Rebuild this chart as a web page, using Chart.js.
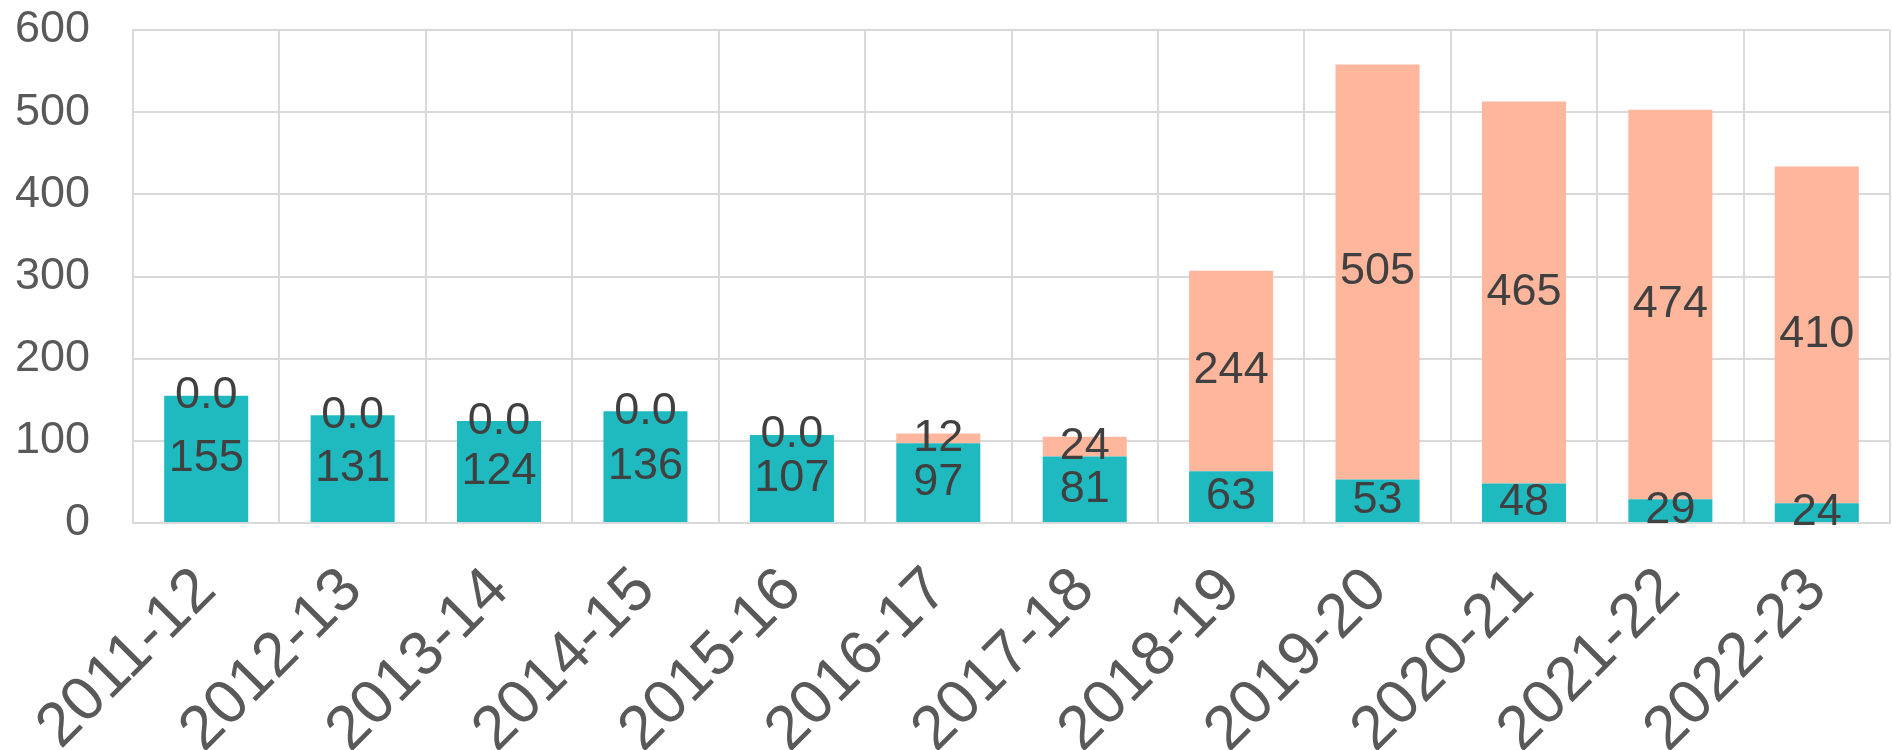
<!DOCTYPE html>
<html>
<head>
<meta charset="utf-8">
<script src="https://cdn.jsdelivr.net/npm/chart.js@4/dist/chart.umd.min.js"></script>
<style>
  html, body { margin: 0; padding: 0; background: #ffffff; }
  #wrap { width: 1892px; height: 750px; }
</style>
</head>
<body>
<div id="wrap"><canvas id="chart"></canvas></div>
<script>
// Values
const years = ['2011-12', '2012-13', '2013-14', '2014-15', '2015-16', '2016-17',
  '2017-18', '2018-19', '2019-20', '2020-21', '2021-22', '2022-23']
const tealValues = [155, 131, 124, 136, 107, 97, 81, 63, 53, 48, 29, 24]
const salmonValues = [0, 0, 0, 0, 0, 12, 24, 244, 505, 465, 474, 410]
const yTicks = [0, 100, 200, 300, 400, 500, 600]

const FONT = '"Liberation Sans", Arial, sans-serif'

// Draw value labels in the middle of each stacked segment
const segmentLabels = {
  id: 'segmentLabels',
  afterDatasetsDraw(chart) {
    const ctx = chart.ctx
    ctx.save()
    ctx.font = '45px ' + FONT
    ctx.fillStyle = '#404040'
    ctx.textAlign = 'center'
    ctx.textBaseline = 'middle'
    chart.data.datasets.forEach((ds, i) => {
      const meta = chart.getDatasetMeta(i)
      meta.data.forEach((bar, j) => {
        const v = ds.data[j]
        const txt = v === 0 ? '0.0' : String(v)
        const p = bar.getProps(['x', 'y', 'base'], true)
        ctx.fillText(txt, p.x, (p.y + p.base) / 2)
      })
    })
    ctx.restore()
  }
}

new Chart(document.getElementById('chart'), {
  type: 'bar',
  data: {
    labels: years,
    datasets: [
      {
        label: 'Teal',
        data: tealValues,
        backgroundColor: '#1fb9c0',
        borderWidth: 0,
        barPercentage: 0.574,
        categoryPercentage: 1
      },
      {
        label: 'Salmon',
        data: salmonValues,
        backgroundColor: '#feb69d',
        borderWidth: 0,
        barPercentage: 0.574,
        categoryPercentage: 1
      }
    ]
  },
  options: {
    responsive: true,
    maintainAspectRatio: false,
    animation: false,
    layout: { padding: { top: 30, right: 2, left: 0, bottom: 0 } },
    plugins: {
      legend: { display: false },
      tooltip: { enabled: false }
    },
    scales: {
      x: {
        stacked: true,
        afterFit(scale) {
          scale.height = 227
          scale.paddingLeft = 0
          scale.paddingRight = 0
        },
        grid: { color: '#d9d9d9', lineWidth: 2, drawTicks: false, offset: true },
        border: { color: '#d9d9d9', width: 2 },
        ticks: {
          autoSkip: false,
          minRotation: 45,
          maxRotation: 45,
          padding: 31,
          color: '#595959',
          font: { family: FONT, size: 62 }
        }
      },
      y: {
        stacked: true,
        min: 0,
        max: 600,
        afterFit(scale) {
          scale.width = 133
          scale.paddingTop = 0
          scale.paddingBottom = 0
        },
        afterBuildTicks(scale) { scale.ticks = yTicks.map(v => ({ value: v })) },
        grid: { color: '#d9d9d9', lineWidth: 2, drawTicks: false },
        border: { color: '#d9d9d9', width: 2 },
        ticks: {
          padding: 43,
          color: '#595959',
          font: { family: FONT, size: 45 }
        }
      }
    }
  },
  plugins: [segmentLabels]
})
</script>
</body>
</html>
